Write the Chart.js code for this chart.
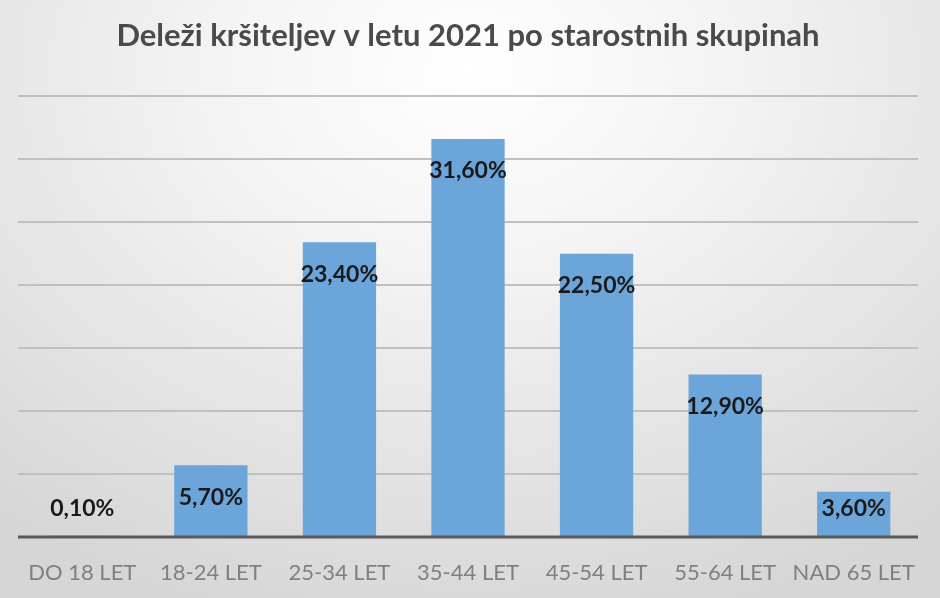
<!DOCTYPE html>
<html>
<head>
<meta charset="utf-8">
<script src="https://cdn.jsdelivr.net/npm/chart.js@4/dist/chart.umd.min.js"></script>
<style>
  html, body { margin: 0; padding: 0; }
  body { width: 940px; height: 598px; overflow: hidden;
    background: radial-gradient(ellipse 80% 95% at 50% 12%, #ffffff 0%, #f3f3f3 35%, #d6d6d6 100%); }
  #wrap { width: 940px; height: 598px; position: relative; }
</style>
</head>
<body>
<div id="wrap"><canvas id="c" width="940" height="598"></canvas></div>
<script>
const titleText = 'Deleži kršiteljev v letu 2021 po starostnih skupinah';
const categories = ['DO 18 LET', '18-24 LET', '25-34 LET', '35-44 LET', '45-54 LET', '55-64 LET', 'NAD 65 LET'];
const shares = [0.1, 5.7, 23.4, 31.6, 22.5, 12.9, 3.6];
const yTicks = [0, 5, 10, 15, 20, 25, 30, 35];

const fmt = v => v.toFixed(2).replace('.', ',') + '%';

const labelPlugin = {
  id: 'insideEndLabels',
  afterDatasetsDraw(chart) {
    const ctx = chart.ctx;
    const meta = chart.getDatasetMeta(0);
    const base = chart.scales.y.getPixelForValue(0);
    ctx.save();
    ctx.strokeStyle = '#595959';
    ctx.lineWidth = 3;
    ctx.beginPath();
    ctx.moveTo(chart.chartArea.left, base);
    ctx.lineTo(chart.chartArea.right, base);
    ctx.stroke();
    ctx.font = 'bold 23px Lato, "Open Sans", sans-serif';
    ctx.fillStyle = '#1a1a1a';
    ctx.textAlign = 'center';
    ctx.textBaseline = 'middle';
    meta.data.forEach((bar, i) => {
      const y = Math.min(bar.y + 32, base - 28);
      ctx.fillText(fmt(shares[i]), bar.x, y);
    });
    ctx.restore();
  }
};

new Chart(document.getElementById('c'), {
  type: 'bar',
  data: {
    labels: categories,
    datasets: [{
      data: shares,
      backgroundColor: '#6ca5da',
      borderWidth: 0,
      categoryPercentage: 1,
      barPercentage: 0.57
    }]
  },
  options: {
    responsive: false,
    animation: false,
    layout: { padding: { left: 18, right: 22, top: 17, bottom: 12 } },
    plugins: {
      legend: { display: false },
      tooltip: { enabled: false },
      title: {
        display: true,
        text: titleText,
        color: '#4a4a4a',
        font: { family: 'Lato, "Open Sans", sans-serif', size: 31, weight: 'bold' },
        padding: { top: 0, bottom: 42 }
      }
    },
    scales: {
      x: {
        offset: true,
        grid: { display: false, drawTicks: false },
        border: { display: false },
        afterFit(scale) { scale.height = 49; },
        ticks: {
          color: '#808080',
          font: { family: 'Lato, "Open Sans", sans-serif', size: 22 },
          padding: 23,
          maxRotation: 0,
          autoSkip: false
        }
      },
      y: {
        min: 0,
        max: 35,
        afterBuildTicks(scale) { scale.ticks = yTicks.map(v => ({ value: v })); },
        grid: { color: '#c0c0c0', lineWidth: 2, drawTicks: false },
        border: { display: false },
        ticks: { display: false }
      }
    }
  },
  plugins: [labelPlugin]
});
</script>
</body>
</html>
